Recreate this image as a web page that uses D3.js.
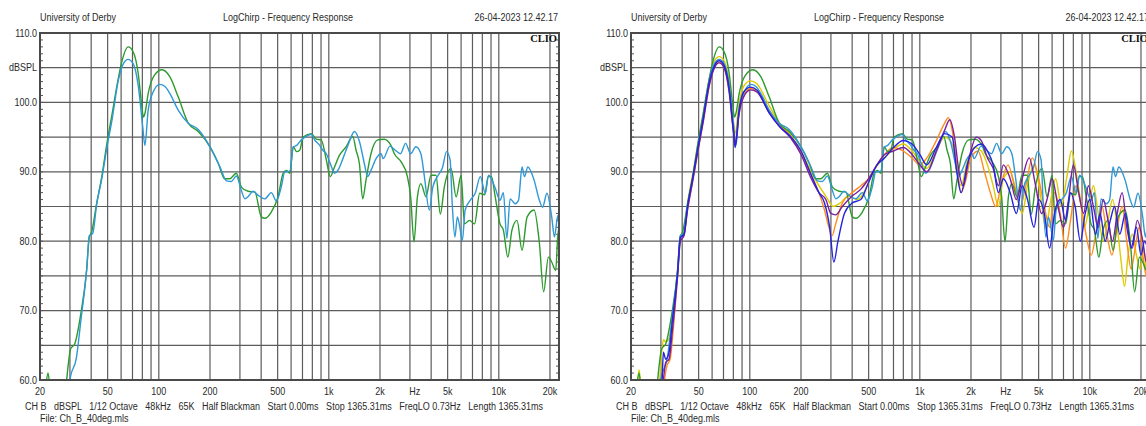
<!DOCTYPE html>
<html><head><meta charset="utf-8">
<script src="https://cdn.jsdelivr.net/npm/d3@7"></script>
<style>body{margin:0;background:#fff}svg{display:block}</style>
</head><body>
<svg id="c" width="1146" height="426"></svg>
<script>
// ---------- DATA ----------
const headerLeft = "University of Derby";
const headerTitle = "LogChirp - Frequency Response";
const headerDate = "26-04-2023 12.42.17";
const footerText = "CH B   dBSPL   1/12 Octave   48kHz   65K   Half Blackman   Start 0.00ms   Stop 1365.31ms   FreqLO 0.73Hz   Length 1365.31ms";
const fileText = "File: Ch_B_40deg.mls";
const yTickValues = [60, 70, 80, 90, 100, 110];
const yUnitLabel = "dBSPL";
const yUnitValue = 105;
const xTickValues = [20, 50, 100, 200, 500, 1000, 2000, 3200, 5000, 10000, 20000];
const xTickLabels = ["20", "50", "100", "200", "500", "1k", "2k", "Hz", "5k", "10k", "20k"];
const gridFreqs = [20,30,40,50,60,70,80,90,100,200,300,400,500,600,700,800,900,1000,2000,3000,4000,5000,6000,7000,8000,9000,10000,20000];
const gridDb = [65,70,75,80,85,90,95,100,105];

const greenCurve = [[20,52],[21.5,58.5],[22.3,61],[23,58],[24,52],[27,52],[28.7,60],[30.3,64.5],[32,65.2],[34.8,69.6],[37.6,75.8],[39,80.6],[40.2,81.3],[43.1,85.5],[46.2,89.3],[49.5,94.1],[53,98.2],[56.8,102.5],[60.9,106.1],[66,108],[70.6,107.3],[75.6,104.2],[79,100],[81.2,97.9],[83,98.5],[86.6,101.3],[94.1,103.9],[104.5,104.7],[116,103.7],[130,100.8],[149,97],[170.6,95.8],[200,93.6],[224,91.2],[244,89],[261,89],[286,89.8],[306,87.8],[335,87.2],[367,87.1],[401,83.5],[420,83.3],[459,84.2],[503,86.4],[539,89.8],[564,90.2],[590,89.8],[618,93.6],[647,92.9],[674,93.1],[707,95],[789,95.5],[844,94.7],[902,94.6],[967,91.7],[1020,89.3],[1080,90.7],[1156,92.4],[1264,93.6],[1383,95.1],[1447,93.1],[1513,91.2],[1582,86.1],[1655,88.8],[1770,92.6],[1940,94.6],[2120,94.7],[2320,93.8],[2430,92.6],[2670,91.4],[2900,89.3],[3030,86.4],[3170,79.9],[3320,86.4],[3480,88.3],[3730,86.4],[3990,89.5],[4270,89.5],[4530,83.9],[4780,87.8],[5240,90.5],[5610,86.4],[6000,89.5],[6280,82.5],[6720,83],[7200,82.5],[7720,86.9],[8270,86.7],[8650,89.3],[9060,89.3],[9480,86.7],[10160,82.5],[10640,81.6],[11300,77.7],[11950,81.6],[12800,83],[13700,78.7],[14680,83.5],[16130,84.5],[17330,79.7],[18350,72.7],[19580,77.7],[20470,77],[21620,75.8],[22200,80.6],[22600,82]];

const lightBlueCurve = [[29,55],[30,60],[32.8,63.3],[34.8,68.6],[37.6,75.8],[39,80.8],[40.8,81.1],[43.1,85.3],[46.2,89],[49.5,93.5],[53,97.4],[57.8,103.2],[61.9,105.6],[66,106.2],[70.6,105.6],[75.6,102.5],[80.4,96.5],[82.8,93.8],[86.6,98.9],[92.6,101.5],[101.4,102.6],[108.7,102.3],[116,101.3],[130,98.9],[149,97],[170.6,96.1],[200,93.6],[229,90.7],[250,88.7],[267,88.6],[286,89.4],[306,87.3],[321,86.1],[335,86.4],[358,87.2],[384,86.6],[420,86.1],[459,87],[491,85.8],[525,87.8],[551,90],[590,90.1],[618,93.6],[647,93.8],[690,94.6],[737,95.1],[789,95.4],[825,94.6],[884,93.8],[923,93.1],[967,92.6],[1020,91.2],[1080,89.8],[1130,90.2],[1210,91.9],[1295,93.8],[1417,95.8],[1513,94.4],[1618,91.2],[1690,89.3],[1770,90.2],[1897,91.9],[2030,92.6],[2088,91.9],[2290,93.7],[2460,93.1],[2640,92.6],[2830,94.1],[3030,92.6],[3250,93.6],[3480,92.6],[3650,89.3],[3900,84.5],[4090,87.8],[4400,89.5],[4650,90.5],[4930,92.9],[5170,91.7],[5320,85.4],[5520,80.6],[5700,83.5],[5900,82],[6100,80.1],[6340,84.5],[6790,85.9],[7260,86.9],[7790,89.3],[8320,86.9],[8710,89.5],[9480,87.8],[10160,85.9],[10640,87],[11150,80.4],[11660,86.1],[12500,85.4],[13060,85.9],[13700,90.7],[14160,89.3],[14820,90.7],[16130,88.8],[17330,85.9],[18100,84.9],[19200,86.9],[20470,83.5],[21250,80.6],[22250,83.7],[22600,82]];

const darkBlueCurve = [[29,55],[30.5,60],[31,64],[32,63],[33.5,64],[35,68.5],[37.6,75.5],[39,80.5],[41,81],[43,85],[46,89],[49.5,93.5],[53,97.5],[57.8,103],[62,105.3],[66,106],[70.6,105.3],[75.6,102],[80,96],[82,93.5],[86,98.5],[92,101.5],[101,102.2],[110,101.8],[130,98.5],[150,96.5],[175,95],[200,93],[230,89.5],[255,87],[275,85.5],[295,82],[312,77],[330,80],[360,84],[400,85.5],[450,86],[500,88.5],[560,91],[620,92],[700,93.5],[800,94.5],[900,94],[1000,92.5],[1100,91],[1250,93.5],[1400,95.5],[1550,95],[1650,90],[1750,87],[1900,91],[2100,93.5],[2300,94],[2500,93],[2700,91],[2900,87],[3100,89],[3400,87],[3700,84],[4000,88],[4300,86],[4700,82],[5000,86],[5400,84],[5800,79],[6200,84],[6700,86],[7200,83],[7700,87],[8200,85],[8800,80],[9400,84],[10000,86],[10800,81],[11500,84],[12300,80],[13200,83],[14000,85],[15000,81],[16200,84],[17500,79],[18800,82],[20000,78],[21000,80],[22600,77]];

const purpleCurve = [[29.5,55],[31,60],[32,62.5],[33.5,63],[35,67],[37.6,75],[39,80],[41,80.8],[43,84.5],[46,88.5],[49.5,93],[53,97],[57.8,102.5],[62,105],[66,105.7],[70.6,105],[75.6,101.5],[80,96],[82.5,94],[86,98],[92,100.8],[101,101.8],[110,101.5],[130,98.5],[150,96.5],[175,94.8],[200,92.5],[230,89],[255,87],[280,86],[300,84],[320,83.8],[350,85],[400,86.5],[450,87.5],[500,89],[560,91],[620,92.5],[700,93],[800,93.5],[900,92.5],[1000,91],[1100,90],[1250,93],[1400,96],[1500,97.5],[1600,95],[1700,90],[1800,88],[1950,92],[2150,95],[2300,94.5],[2500,92],[2700,90.5],[2900,88],[3100,91],[3400,89],[3700,86],[4000,89],[4400,92],[4800,88],[5200,84],[5600,86],[6000,89],[6500,85],[7000,82],[7500,86],[8000,91],[8600,87],[9200,84],[9800,88],[10500,85],[11200,82],[12000,86],[12800,83],[13600,80],[14500,84],[15500,87],[16500,82],[17800,79],[19000,83],[20500,80],[21500,77],[22600,79]];

const orangeCurve = [[30,55],[31.5,60],[32.5,62],[34,63],[35.5,67.5],[37.6,75],[39,80],[41,80.8],[43,84.5],[46,88.5],[49.5,93],[53,97],[57.8,102.5],[62,105.2],[66,105.8],[70.6,105],[75.6,101.5],[80,96],[82.5,94.5],[86,98],[92,101],[101,102],[110,101.6],[130,98.8],[150,96.8],[175,95],[200,92.8],[230,89.5],[255,87],[275,84.5],[292,82],[305,80.8],[320,82.5],[350,85.5],[400,87],[450,88],[500,89],[560,91],[620,92.5],[700,93.5],[800,93],[900,92],[1000,91],[1100,92],[1250,94.5],[1400,97],[1470,97.8],[1550,96],[1650,91],[1750,87],[1850,88.5],[2000,92],[2200,93],[2400,90],[2600,87],[2800,85],[3000,88],[3300,91],[3600,88],[3900,85],[4200,88],[4600,92],[5000,89],[5400,85],[5800,82],[6200,87],[6700,84],[7200,79],[7700,83],[8300,88],[8900,85],[9500,81],[10200,78],[11000,82],[11800,85],[12600,81],[13500,78],[14500,82],[15500,85],[16500,80],[17500,76],[18500,79],[19500,82],[20500,78],[21500,75],[22600,78]];

const yellowCurve = [[20.5,52],[21.5,57],[22.3,61.5],[23,58],[24,52],[28.5,55],[29.5,60],[30.3,64],[31,65.8],[32,65.5],[33.5,66],[35,69],[37.6,76],[39,80.8],[41,81.2],[43,85.5],[46,89.5],[49.5,94],[53,98],[57.8,103.5],[62,106],[66,106.6],[70.6,106],[75.6,103],[80,97.5],[82,95.5],[86,99.5],[92,102.3],[101,103.1],[110,102.7],[130,99.5],[150,97],[175,95.2],[200,93],[230,90],[255,88],[280,86.5],[310,85],[340,85.5],[380,86.5],[430,86],[480,87.5],[530,90],[590,91.5],[650,92.5],[720,93.5],[800,94],[900,93],[1000,91.5],[1100,90.5],[1250,93],[1400,95],[1550,94],[1650,90],[1750,88],[1900,91.5],[2100,93.5],[2300,93],[2500,91],[2700,88],[2900,85],[3100,89],[3400,90],[3700,87],[4000,84],[4300,88],[4700,91],[5100,87],[5500,82],[5900,86],[6300,89],[6800,85],[7300,89],[7800,93],[8300,90],[8800,86],[9300,82],[9900,85],[10500,88],[11200,84],[12000,80],[12800,83],[13600,86],[14500,82],[15300,77],[16000,73.5],[16800,78],[17800,81],[18800,78],[19800,76],[20800,79],[21800,74],[22600,76]];

const colors = {green:"#2c9a2c", lightBlue:"#2f98d6", darkBlue:"#2323e0", purple:"#7b1fa0", orange:"#ff8c1a", yellow:"#dccb00"};

const leftSeries = [
  {data: greenCurve, color: colors.green},
  {data: lightBlueCurve, color: colors.lightBlue}
];
const rightSeries = [
  {data: yellowCurve, color: colors.yellow},
  {data: orangeCurve, color: colors.orange},
  {data: greenCurve, color: colors.green},
  {data: lightBlueCurve, color: colors.lightBlue},
  {data: purpleCurve, color: colors.purple},
  {data: darkBlueCurve, color: colors.darkBlue}
];

// ---------- DRAW ----------
const svg = d3.select("#c");
const FONT = "'Liberation Sans', Arial, sans-serif";
const L = 40, R = 559, T = 33, B = 380;

function txt(g, x, y, s, anchor, size, sx) {
  return g.append("text")
    .attr("transform", `translate(${x},${y}) scale(${sx || 0.9},1)`)
    .attr("text-anchor", anchor)
    .attr("font-family", FONT)
    .attr("font-size", size || 10)
    .attr("fill", "#2a2a2a")
    .text(s);
}

function panel(id, dx, series) {
  const g = svg.append("g").attr("transform", `translate(${dx},0)`);
  const x = d3.scaleLog().domain([20, 22600]).range([L, R]);
  const y = d3.scaleLinear().domain([60, 110]).range([B, T]);

  // header
  txt(g, L, 21, headerLeft, "start");
  txt(g, 288, 21, headerTitle, "middle");
  txt(g, 558, 21, headerDate, "end");

  // grid
  g.append("g").selectAll("line").data(gridFreqs).join("line")
    .attr("x1", d => x(d)).attr("x2", d => x(d))
    .attr("y1", T).attr("y2", B)
    .attr("stroke", "#5c5c5c").attr("stroke-width", 1.2);
  g.append("g").selectAll("line").data(gridDb).join("line")
    .attr("x1", L).attr("x2", R)
    .attr("y1", d => y(d)).attr("y2", d => y(d))
    .attr("stroke", "#5c5c5c").attr("stroke-width", 1.2);

  // minor ticks
  const minor = d3.range(61, 110);
  g.append("g").selectAll("line").data(minor).join("line")
    .attr("x1", L).attr("x2", L + 3)
    .attr("y1", d => y(d)).attr("y2", d => y(d))
    .attr("stroke", "#555").attr("stroke-width", 1);
  g.append("g").selectAll("line").data(minor).join("line")
    .attr("x1", R - 3).attr("x2", R)
    .attr("y1", d => y(d)).attr("y2", d => y(d))
    .attr("stroke", "#555").attr("stroke-width", 1);

  // curves
  const clipId = "clip" + id;
  g.append("clipPath").attr("id", clipId)
    .append("rect").attr("x", L).attr("y", T).attr("width", R - L).attr("height", B - T);
  const line = d3.line().x(d => x(d[0])).y(d => y(d[1])).curve(d3.curveMonotoneX);
  const cg = g.append("g").attr("clip-path", `url(#${clipId})`);
  series.forEach(s => {
    cg.append("path").attr("d", line(s.data))
      .attr("fill", "none").attr("stroke", s.color)
      .attr("stroke-width", 1.4).attr("stroke-linejoin", "round");
  });

  // frame
  g.append("rect").attr("x", L).attr("y", T).attr("width", R - L).attr("height", B - T)
    .attr("fill", "none").attr("stroke", "#4a4a4a").attr("stroke-width", 2);

  // CLIO
  g.append("text").attr("x", 557).attr("y", 42).attr("text-anchor", "end")
    .attr("font-family", "'Liberation Serif', 'DejaVu Serif', serif")
    .attr("font-weight", "bold").attr("font-size", 10.5).attr("fill", "#111").text("CLIO");

  // y labels
  yTickValues.forEach(v => txt(g, 37, y(v) + 3.5, d3.format(".1f")(v), "end"));
  txt(g, 37, y(yUnitValue) + 3.5, yUnitLabel, "end");

  // x labels
  xTickValues.forEach((v, i) => txt(g, x(v), 395, xTickLabels[i], "middle"));

  // footer
  g.append("text").attr("x", 25).attr("y", 410)
    .attr("font-family", FONT).attr("font-size", 10).attr("fill", "#2a2a2a")
    .attr("textLength", 518).attr("lengthAdjust", "spacingAndGlyphs")
    .style("white-space", "pre").text(footerText);
  txt(g, 40, 422, fileText, "start");
}

panel("L", 0, leftSeries);
panel("R", 591, rightSeries);
</script>
</body></html>
